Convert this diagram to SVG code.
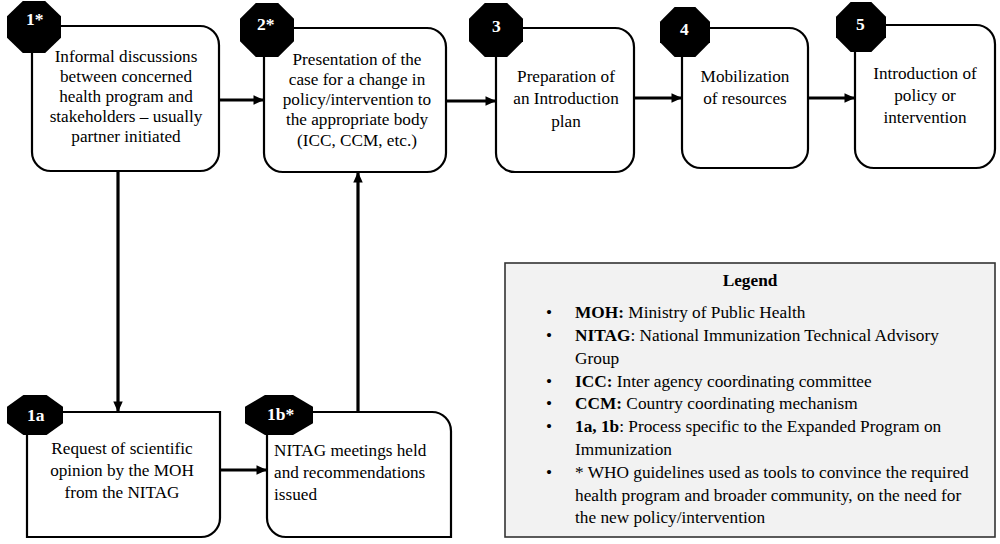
<svg xmlns="http://www.w3.org/2000/svg" xmlns:xlink="http://www.w3.org/1999/xlink" width="1000" height="544" viewBox="0 0 1000 544">
<style>
.box{fill:#fff;stroke:#000;stroke-width:2.2}
text{font-family:'Liberation Serif','Times New Roman',serif}
.t{font-size:17.2px;fill:#000}
.c{text-anchor:middle}
.b{font-size:17.5px;font-weight:bold;fill:#fff}
.lg{font-size:17.3px;fill:#000}
.conn{stroke:#000;stroke-width:3.2;fill:none;marker-end:url(#ah)}
</style>
<defs>
<marker id="ah" viewBox="0 0 10 9" refX="9" refY="4.5" markerWidth="3.3" markerHeight="3" orient="auto" markerUnits="strokeWidth">
<path d="M0,0 L10,4.5 L0,9 Z" fill="#000"/>
</marker>
<polygon id="oct" points="1,0.414 0.414,1 -0.414,1 -1,0.414 -1,-0.414 -0.414,-1 0.414,-1 1,-0.414" fill="#000"/>
</defs>
<rect width="1000" height="544" fill="#fff"/>

<g id="connectors">
<line class="conn" x1="219" y1="100" x2="263" y2="100"/>
<line class="conn" x1="446" y1="101" x2="495" y2="101"/>
<line class="conn" x1="634" y1="98" x2="681" y2="98"/>
<line class="conn" x1="808" y1="98" x2="854" y2="98"/>
<line class="conn" x1="118" y1="171" x2="118" y2="411"/>
<line class="conn" x1="220" y1="470" x2="266" y2="470"/>
<line class="conn" x1="358" y1="412" x2="358" y2="173"/>
</g>

<g id="node1">
<rect class="box" x="32" y="26" width="187" height="145" rx="19"/>
<use xlink:href="#oct" transform="translate(34,27) scale(27,26)"/>
<text class="b" x="26" y="25">1*</text>
<text class="t c" x="126" y="62">Informal discussions</text>
<text class="t c" x="126" y="82">between concerned</text>
<text class="t c" x="126" y="102">health program and</text>
<text class="t c" x="126" y="122">stakeholders – usually</text>
<text class="t c" x="126" y="142">partner initiated</text>
</g>

<g id="node2">
<rect class="box" x="264" y="28" width="182" height="144" rx="19"/>
<use xlink:href="#oct" transform="translate(267,30) scale(27,27)"/>
<text class="b" x="257" y="30">2*</text>
<text class="t c" x="357" y="65">Presentation of the</text>
<text class="t c" x="357" y="85">case for a change in</text>
<text class="t c" x="357" y="105">policy/intervention to</text>
<text class="t c" x="357" y="125">the appropriate body</text>
<text class="t c" x="357" y="146">(ICC, CCM, etc.)</text>
</g>

<g id="node3">
<rect class="box" x="496" y="28" width="138" height="144" rx="19"/>
<use xlink:href="#oct" transform="translate(496,30) scale(27,27)"/>
<text class="b" x="492" y="32">3</text>
<text class="t c" x="566" y="82">Preparation of</text>
<text class="t c" x="566" y="104">an Introduction</text>
<text class="t c" x="566" y="127">plan</text>
</g>

<g id="node4">
<rect class="box" x="682" y="28" width="126" height="140" rx="19"/>
<use xlink:href="#oct" transform="translate(685,32) scale(25,25)"/>
<text class="b" x="680" y="35">4</text>
<text class="t c" x="745" y="82">Mobilization</text>
<text class="t c" x="745" y="104">of resources</text>
</g>

<g id="node5">
<rect class="box" x="855" y="25" width="140" height="143" rx="19"/>
<use xlink:href="#oct" transform="translate(861,27) scale(25,25)"/>
<text class="b" x="856" y="30">5</text>
<text class="t c" x="925" y="79">Introduction of</text>
<text class="t c" x="925" y="101">policy or</text>
<text class="t c" x="925" y="123">intervention</text>
</g>

<g id="node1a">
<path class="box" d="M27,412 H220 V518 A19,19 0 0 1 201,537 H27 Z"/>
<use xlink:href="#oct" transform="translate(35,415) scale(28,20)"/>
<text class="b" x="27" y="421">1a</text>
<text class="t c" x="122" y="454">Request of scientific</text>
<text class="t c" x="122" y="476">opinion by the MOH</text>
<text class="t c" x="122" y="498">from the NITAG</text>
</g>

<g id="node1b">
<path class="box" d="M267,412 H432 A19,19 0 0 1 451,431 V537 H286 A19,19 0 0 1 267,518 Z"/>
<use xlink:href="#oct" transform="translate(279,415) scale(34,20)"/>
<text class="b" x="267" y="420">1b*</text>
<text class="t" x="274" y="456">NITAG meetings held</text>
<text class="t" x="274" y="478">and recommendations</text>
<text class="t" x="274" y="500">issued</text>
</g>

<g id="legend">
<rect x="505" y="263" width="490" height="274" fill="#f2f2f2" stroke="#333" stroke-width="1.6"/>
<text class="lg c" x="750" y="286" font-weight="bold">Legend</text>
<g class="lg">
<text x="546" y="318">•</text>
<text x="546" y="341">•</text>
<text x="546" y="387">•</text>
<text x="546" y="409">•</text>
<text x="546" y="432">•</text>
<text x="546" y="478">•</text>
</g>
<text class="lg" x="575" y="318"><tspan font-weight="bold">MOH:</tspan> Ministry of Public Health</text>
<text class="lg" x="575" y="341"><tspan font-weight="bold">NITAG</tspan>: National Immunization Technical Advisory</text>
<text class="lg" x="575" y="364">Group</text>
<text class="lg" x="575" y="387"><tspan font-weight="bold">ICC:</tspan> Inter agency coordinating committee</text>
<text class="lg" x="575" y="409"><tspan font-weight="bold">CCM:</tspan> Country coordinating mechanism</text>
<text class="lg" x="575" y="432"><tspan font-weight="bold">1a, 1b</tspan>: Process specific to the Expanded Program on</text>
<text class="lg" x="575" y="455">Immunization</text>
<text class="lg" x="575" y="478">* WHO guidelines used as tools to convince the required</text>
<text class="lg" x="575" y="501">health program and broader community, on the need for</text>
<text class="lg" x="575" y="523">the new policy/intervention</text>
</g>
</svg>
